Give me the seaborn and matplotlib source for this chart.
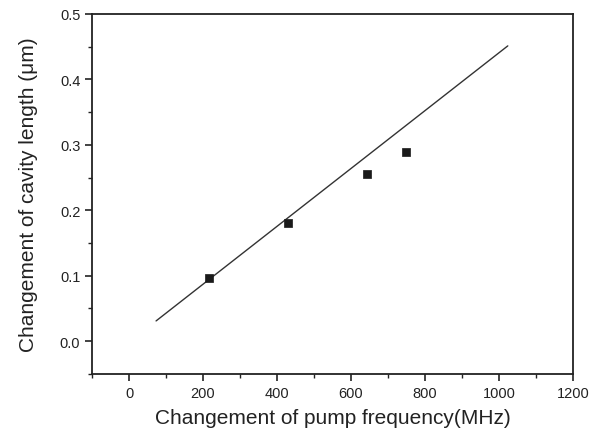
import matplotlib
matplotlib.use("Agg")
import matplotlib.pyplot as plt
from matplotlib.ticker import MultipleLocator
import pandas as pd
import seaborn as sns

# measured points
freq_mhz = [215, 430, 643, 750]
cavity_um = [0.097, 0.181, 0.255, 0.289]

# fitted straight line (end points)
fit_freq = [73, 1024]
fit_cavity = [0.031, 0.451]

x_ticks = [0, 200, 400, 600, 800, 1000, 1200]
y_ticks = [0.0, 0.1, 0.2, 0.3, 0.4, 0.5]

sns.set_style("ticks")
plt.rcParams["font.family"] = ["Liberation Sans", "DejaVu Sans"]

pts = pd.DataFrame({"freq": freq_mhz, "cav": cavity_um})
fit = pd.DataFrame({"freq": fit_freq, "cav": fit_cavity})

fig = plt.figure(figsize=(5.98, 4.35), dpi=100)
ax = fig.add_axes([0.154, 0.138, 0.804, 0.828])

sns.lineplot(data=fit, x="freq", y="cav", ax=ax, color="#333333", linewidth=1.0)
sns.scatterplot(data=pts, x="freq", y="cav", ax=ax, marker="s", s=36,
                color="#1a1a1a", edgecolor="#1a1a1a", linewidth=0.5, zorder=3)

ax.set_xlim(-100, 1200)
ax.set_ylim(-0.05, 0.5)
ax.set_xticks(x_ticks)
ax.set_yticks(y_ticks)
ax.set_yticklabels([f"{v:.1f}" for v in y_ticks])
ax.xaxis.set_minor_locator(MultipleLocator(100))
ax.yaxis.set_minor_locator(MultipleLocator(0.05))

for side in ["left", "bottom", "right", "top"]:
    ax.spines[side].set_visible(True)
    ax.spines[side].set_linewidth(1.3)
    ax.spines[side].set_color("#222222")

ax.tick_params(which="major", direction="out", length=5, width=1.2,
               labelsize=10.5, colors="#222222", top=False, right=False)
ax.tick_params(which="minor", direction="out", length=3, width=1.0,
               colors="#222222", top=False, right=False)

ax.set_xlabel("Changement of pump frequency(MHz)", fontsize=15, color="#222222", labelpad=6)
ax.set_ylabel("Changement of cavity length (\u03bcm)", fontsize=15, color="#222222", labelpad=16)

fig.savefig("out.png", dpi=100)
